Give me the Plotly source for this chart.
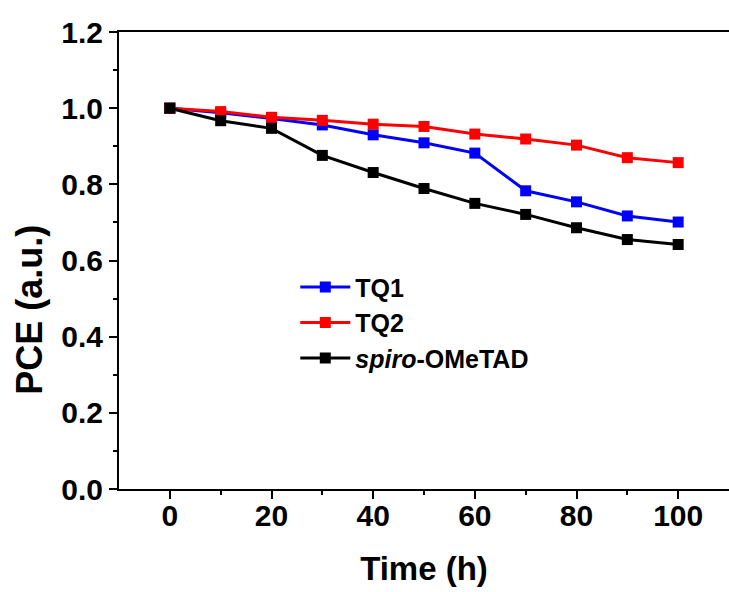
import plotly.graph_objects as go

time_h = [0, 10, 20, 30, 40, 50, 60, 70, 80, 90, 100]
tq1 = [1.0, 0.988, 0.973, 0.956, 0.930, 0.909, 0.882, 0.783, 0.754, 0.717, 0.701]
tq2 = [1.0, 0.991, 0.976, 0.968, 0.958, 0.952, 0.932, 0.919, 0.903, 0.870, 0.857]
spiro = [1.0, 0.967, 0.947, 0.876, 0.831, 0.789, 0.750, 0.721, 0.686, 0.655, 0.642]

series = [
    ("TQ1", tq1, "#0000FF"),
    ("TQ2", tq2, "#FF0000"),
    ("<i>spiro</i>-OMeTAD", spiro, "#000000"),
]

x_ticks = [0, 20, 40, 60, 80, 100]
y_ticks = [0.0, 0.2, 0.4, 0.6, 0.8, 1.0, 1.2]
y_ticktext = ["0.0", "0.2", "0.4", "0.6", "0.8", "1.0", "1.2"]

FONT = "Liberation Sans, Arial, sans-serif"

fig = go.Figure()
for name, vals, col in series:
    fig.add_trace(go.Scatter(
        x=time_h, y=vals, name=name, mode="lines+markers",
        line=dict(color=col, width=3),
        marker=dict(symbol="square", size=11, color=col),
    ))

fig.update_layout(
    width=729, height=592,
    margin=dict(l=119, r=0, t=32, b=103),
    paper_bgcolor="white", plot_bgcolor="white",
    font=dict(family=FONT, color="black", weight="bold"),
    showlegend=True,
    legend=dict(
        x=0.289, y=0.492, xanchor="left", yanchor="top",
        bgcolor="rgba(0,0,0,0)",
        font=dict(size=25, family=FONT, color="black", weight="bold"),
        itemwidth=50,
        tracegroupgap=0,
    ),
    xaxis=dict(
        range=[-10, 110],
        tickmode="array", tickvals=x_ticks,
        ticks="outside", ticklen=8, tickwidth=2, tickcolor="black",
        minor=dict(tickvals=[10, 30, 50, 70, 90], ticks="outside", ticklen=4, tickwidth=2, tickcolor="black"),
        showline=True, linewidth=2, linecolor="black", mirror=True,
        showgrid=False, zeroline=False,
        ticklabelstandoff=-9,
        tickfont=dict(size=30, family=FONT, weight="bold"),
        title=dict(text="Time (h)", font=dict(size=33, family=FONT, weight="bold"), standoff=26),
    ),
    yaxis=dict(
        range=[0, 1.2],
        tickmode="array", tickvals=y_ticks, ticktext=y_ticktext,
        ticks="outside", ticklen=8, tickwidth=2, tickcolor="black",
        minor=dict(tickvals=[0.1, 0.3, 0.5, 0.7, 0.9, 1.1], ticks="outside", ticklen=4, tickwidth=2, tickcolor="black"),
        showline=True, linewidth=2, linecolor="black", mirror=False,
        showgrid=False, zeroline=False,
        tickfont=dict(size=30, family=FONT, weight="bold"),
    ),
    annotations=[dict(
        text="PCE (a.u.)", xref="paper", yref="paper",
        x=-0.146, y=0.392, xanchor="center", yanchor="middle",
        textangle=-90, showarrow=False,
        font=dict(size=36, family=FONT, color="black", weight="bold"),
    )],
)

fig.write_html("out.html")
